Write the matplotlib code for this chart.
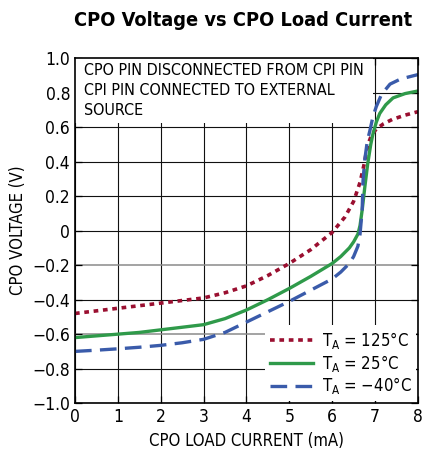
import numpy as np
import matplotlib
matplotlib.use("Agg")
import matplotlib.pyplot as plt
from matplotlib.patches import Rectangle

# =========================
# DATA
# =========================
x_125 = [0, 0.5, 1, 1.5, 2, 2.5, 3, 3.5, 4, 4.5, 5, 5.5, 6, 6.3, 6.5, 6.65, 6.75,
         6.8, 6.85, 6.92, 7.03, 7.2, 7.4, 7.7, 8]
y_125 = [-0.48, -0.465, -0.45, -0.435, -0.42, -0.405, -0.39, -0.36, -0.32, -0.26,
         -0.19, -0.11, -0.01, 0.08, 0.17, 0.28, 0.39, 0.46, 0.51, 0.555, 0.59,
         0.62, 0.645, 0.67, 0.69]

x_25 = [0, 0.5, 1, 1.5, 2, 2.5, 3, 3.5, 4, 4.5, 5, 5.5, 6, 6.2, 6.4, 6.5, 6.6, 6.65,
        6.7, 6.76, 6.83, 6.9, 6.95, 7.03, 7.11, 7.25, 7.42, 7.7, 8]
y_25 = [-0.62, -0.61, -0.60, -0.59, -0.575, -0.56, -0.545, -0.51, -0.46, -0.40,
        -0.335, -0.265, -0.19, -0.15, -0.10, -0.065, -0.02, 0.03, 0.12, 0.25, 0.39,
        0.50, 0.56, 0.63, 0.68, 0.73, 0.77, 0.795, 0.81]

x_m40 = [0, 0.5, 1, 1.5, 2, 2.5, 3, 3.5, 4, 4.5, 5, 5.5, 6, 6.2, 6.4, 6.5, 6.6, 6.65,
         6.7, 6.72, 6.76, 6.82, 6.88, 6.95, 7.03, 7.15, 7.35, 7.6, 8]
y_m40 = [-0.70, -0.693, -0.685, -0.676, -0.665, -0.65, -0.63, -0.59, -0.53, -0.47,
         -0.41, -0.345, -0.28, -0.24, -0.19, -0.15, -0.09, -0.02, 0.12, 0.29, 0.41,
         0.52, 0.58, 0.66, 0.72, 0.79, 0.85, 0.88, 0.905]

x_ticks = [0, 1, 2, 3, 4, 5, 6, 7, 8]
y_ticks = [-1.0, -0.8, -0.6, -0.4, -0.2, 0, 0.2, 0.4, 0.6, 0.8, 1.0]
y_tick_labels = ["\u22121.0", "\u22120.8", "\u22120.6", "\u22120.4", "\u22120.2", "0",
                 "0.2", "0.4", "0.6", "0.8", "1.0"]

note_lines = ["CPO PIN DISCONNECTED FROM CPI PIN",
              "CPI PIN CONNECTED TO EXTERNAL",
              "SOURCE"]

RED = "#9a0f30"
GREEN = "#2f9a4a"
BLUE = "#3a5baa"

plt.rcParams["font.family"] = ["DejaVu Sans"]
plt.rcParams["font.stretch"] = "condensed"

fig = plt.figure(figsize=(4.26, 4.55), dpi=100)
ax = fig.add_axes([0.176, 0.114, 0.805, 0.758])

ax.plot(x_125, y_125, color=RED, lw=2.6, linestyle=(0, (1.3, 1.3)), zorder=4,
        label="T$_\\mathregular{A}$ = 125\u00b0C")
ax.plot(x_25, y_25, color=GREEN, lw=2.4, zorder=4,
        label="T$_\\mathregular{A}$ = 25\u00b0C")
ax.plot(x_m40, y_m40, color=BLUE, lw=2.4, linestyle=(0, (5, 2.5)), zorder=4,
        label="T$_\\mathregular{A}$ = \u221240\u00b0C")

ax.set_xlim(0, 8)
ax.set_ylim(-1.0, 1.0)
ax.set_xticks(x_ticks)
ax.set_yticks(y_ticks)
ax.set_yticklabels(y_tick_labels)
ax.grid(True, color="#111111", lw=0.8, zorder=1)
ax.set_axisbelow(True)
# the -0.2 and -0.6 grid lines are drawn lighter in the reference
for val, gl in zip(y_ticks, ax.yaxis.get_gridlines()):
    if val in (-0.2, -0.6):
        gl.set_color("#8a8a8a")
        gl.set_linewidth(1.1)
ax.tick_params(direction="in", top=True, right=True, labelsize=12.5, length=5, width=0.9)
for s in ax.spines.values():
    s.set_linewidth(1.2)
    s.set_zorder(6)

# white note box in upper left
ax.add_patch(Rectangle((0, 0.625), 6.95, 0.375, facecolor="white", edgecolor="none", zorder=2))
ax.text(0.2, 0.97, "\n".join(note_lines), fontsize=11.5, va="top", ha="left",
        linespacing=1.4, zorder=3)

leg = ax.legend(loc="lower right", fontsize=12, frameon=True, fancybox=False,
                borderaxespad=0.1, handlelength=2.6, labelspacing=0.1,
                handletextpad=0.5, borderpad=0.3)
leg.get_frame().set_facecolor("white")
leg.get_frame().set_edgecolor("none")
leg.get_frame().set_alpha(1)
leg.set_zorder(5)

ax.set_xlabel("CPO LOAD CURRENT (mA)", fontsize=12, labelpad=4)
ax.set_ylabel("CPO VOLTAGE (V)", fontsize=12, labelpad=4)
fig.suptitle("CPO Voltage vs CPO Load Current", fontsize=14.3, fontweight="bold",
             x=0.571, y=0.975)

fig.savefig("out.png", dpi=100)
